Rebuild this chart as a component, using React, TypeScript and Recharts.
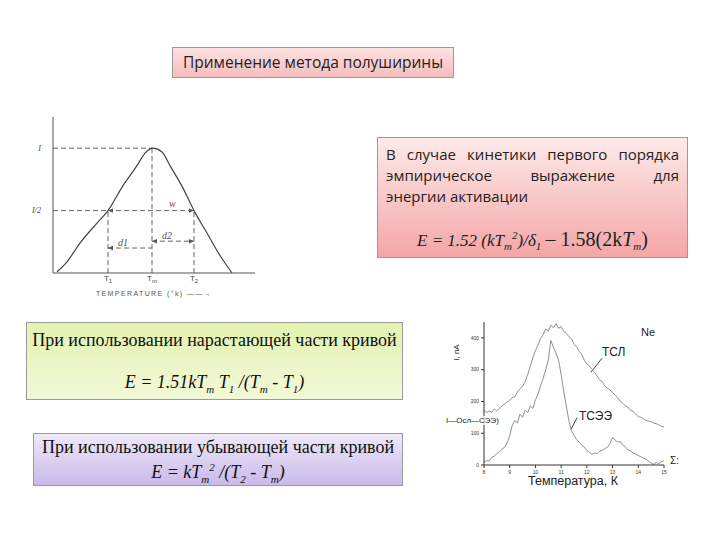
import { LineChart, Line, XAxis, YAxis, ReferenceLine } from "recharts";

// left sketch: half-width method (arbitrary temperature units, I normalised to 1)
const glowT = [4, 14, 27, 44, 55, 70, 84, 92, 100, 109, 117, 130, 141, 154, 167, 179];
const glowI = [0.01, 0.09, 0.24, 0.4, 0.5, 0.7, 0.86, 0.96, 1.0, 0.97, 0.86, 0.68, 0.5, 0.32, 0.14, 0.0];
const T1 = 55;
const TM = 99;
const T2 = 141;
const markTicks = [T1, TM, T2];
const markNames = ["1", "m", "2"];

// right plot: Ne, TSL and TSEE curves
const tempK = [
  8.0, 8.1, 8.2, 8.3, 8.4, 8.5, 8.6, 8.7, 8.8, 8.9, 9.0, 9.1, 9.2, 9.3, 9.4, 9.5, 9.6, 9.7, 9.8, 9.9,
  10.0, 10.1, 10.2, 10.3, 10.4, 10.5, 10.6, 10.7, 10.8, 10.9, 11.0, 11.1, 11.2, 11.3, 11.4, 11.5, 11.6,
  11.7, 11.8, 11.9, 12.0, 12.1, 12.2, 12.3, 12.4, 12.5, 12.6, 12.7, 12.8, 12.9, 13.0, 13.1, 13.2, 13.3,
  13.4, 13.5, 13.6, 13.7, 13.8, 13.9, 14.0, 14.1, 14.2, 14.3, 14.4, 14.5, 14.6, 14.7, 14.8, 14.9, 15.0,
];
const tsl = [
  172, 165, 170, 166, 176, 170, 178, 186, 192, 198, 204, 212, 215, 230, 240, 248, 262, 285, 310, 338,
  360, 378, 398, 410, 428, 422, 440, 432, 445, 430, 436, 420, 414, 404, 398, 380, 372,
  358, 348, 330, 318, 312, 300, 292, 280, 268, 262, 248, 242, 236, 228, 220, 212, 200,
  194, 186, 182, 172, 168, 160, 152, 150, 146, 140, 138, 136, 132, 130, 126, 122, 120,
];
const tsee = [
  8, 14, 12, 24, 28, 36, 42, 50, 56, 70, 92, 125, 140, 132, 160, 150, 172, 165, 186, 178,
  205, 222, 250, 272, 300, 330, 392, 370, 352, 330, 285, 232, 185, 140, 108, 94, 80,
  72, 62, 56, 46, 40, 34, 38, 36, 44, 46, 52, 56, 68, 86, 78, 72, 74,
  62, 56, 48, 44, 38, 34, 30, 26, 22, 18, 12, 6, 2, 8, 4, 10, 14,
];
const xTicks = [8, 9, 10, 11, 12, 13, 14, 15];
const yTicks = [0, 100, 200, 300, 400];

const glowData = glowT.map((t, i) => ({ t, i: glowI[i] }));
const neData = tempK.map((t, i) => ({ t, tsl: tsl[i], tsee: tsee[i] }));

const serif = "'Liberation Serif', 'Times New Roman', serif";
const sans = "'Liberation Sans', Arial, sans-serif";
const calibri = "'Open Sans', 'Noto Sans', sans-serif";

const MarkTick = ({ x, y, payload }: any) => {
  const idx = markTicks.indexOf(payload.value);
  return (
    <text x={x} y={y} textAnchor="middle" fontSize={8} fill="#444" fontFamily={sans}>
      T
      <tspan fontSize={6} dy={1.5}>
        {markNames[idx]}
      </tspan>
    </text>
  );
};

const GlowSketch = () => (
  <LineChart width={270} height={210} data={glowData} margin={{ top: 21, right: 15, left: 0, bottom: 0 }}>
    <defs>
      <marker id="arr" markerWidth="6" markerHeight="6" refX="5" refY="3" orient="auto-start-reverse">
        <path d="M0,0.8 L5,3 L0,5.2 z" fill="#555" />
      </marker>
    </defs>
    <XAxis
      type="number"
      dataKey="t"
      domain={[0, 202]}
      ticks={markTicks}
      tick={<MarkTick />}
      tickLine={false}
      stroke="#555"
      height={33}
      label={{
        value: "TEMPERATURE (°k) ——→",
        position: "insideBottom",
        offset: 10,
        fontSize: 7,
        fill: "#555",
        fontFamily: sans,
        letterSpacing: 1.4,
      }}
    />
    <YAxis
      type="number"
      domain={[0, 1.25]}
      ticks={[0.5, 1]}
      tickFormatter={(v) => (v === 1 ? "I" : "I/2")}
      tickLine={false}
      stroke="#555"
      width={53}
      tickMargin={6}
      tick={{ fontSize: 8, fill: "#444", fontFamily: serif, fontStyle: "italic" }}
    />
    <ReferenceLine segment={[{ x: 0, y: 1 }, { x: TM, y: 1 }]} stroke="#666" strokeDasharray="5 3" />
    <ReferenceLine segment={[{ x: 0, y: 0.5 }, { x: T1, y: 0.5 }]} stroke="#666" strokeDasharray="5 3" />
    <ReferenceLine segment={[{ x: TM, y: 0 }, { x: TM, y: 1 }]} stroke="#666" strokeDasharray="5 3" />
    <ReferenceLine segment={[{ x: T1, y: 0 }, { x: T1, y: 0.5 }]} stroke="#666" strokeDasharray="5 3" />
    <ReferenceLine segment={[{ x: T2, y: 0 }, { x: T2, y: 0.5 }]} stroke="#666" strokeDasharray="5 3" />
    <ReferenceLine
      segment={[{ x: T1, y: 0.5 }, { x: T2, y: 0.5 }]}
      stroke="#666"
      strokeDasharray="5 3"
      markerStart="url(#arr)"
      markerEnd="url(#arr)"
    />
    <ReferenceLine
      segment={[{ x: T1, y: 0.2 }, { x: TM, y: 0.2 }]}
      stroke="#666"
      strokeDasharray="5 3"
      markerStart="url(#arr)"
    />
    <ReferenceLine
      segment={[{ x: TM, y: 0.255 }, { x: T2, y: 0.255 }]}
      stroke="#666"
      strokeDasharray="5 3"
      markerStart="url(#arr)"
      markerEnd="url(#arr)"
    />
    <Line type="monotone" dataKey="i" stroke="#444" strokeWidth={1.2} dot={false} isAnimationActive={false} />
  </LineChart>
);

const NePlot = () => (
  <LineChart width={250} height={200} data={neData} margin={{ top: 12, right: 26, left: 0, bottom: 0 }}>
    <XAxis
      type="number"
      dataKey="t"
      domain={[8, 15]}
      ticks={xTicks}
      tickSize={3}
      stroke="#333"
      height={45}
      tick={{ fontSize: 5, fill: "#333", fontFamily: sans }}
    />
    <XAxis xAxisId="top" orientation="top" type="number" domain={[8, 15]} ticks={xTicks} tick={false} stroke="#333" height={0} />
    <YAxis
      type="number"
      domain={[0, 450]}
      ticks={yTicks}
      tickSize={3}
      stroke="#333"
      width={44}
      tick={{ fontSize: 5, fill: "#333", fontFamily: sans }}
    />
    <YAxis yAxisId="right" orientation="right" type="number" domain={[0, 450]} ticks={yTicks} tick={false} stroke="#333" width={0} />
    <ReferenceLine segment={[{ x: 12.59, y: 336 }, { x: 12.16, y: 292 }]} stroke="#444" />
    <ReferenceLine segment={[{ x: 11.62, y: 149 }, { x: 11.38, y: 112 }]} stroke="#444" />
    <Line type="linear" dataKey="tsl" stroke="#909090" strokeWidth={1} dot={false} isAnimationActive={false} />
    <Line type="linear" dataKey="tsee" stroke="#909090" strokeWidth={1} dot={false} isAnimationActive={false} />
  </LineChart>
);

const box = (left: number, top: number, width: number, height: number, bg: string) => ({
  position: "absolute" as const,
  left,
  top,
  width,
  height,
  boxSizing: "border-box" as const,
  border: "1px solid #9a9a9a",
  background: bg,
});

const abs = (left: number, top: number, extra: any = {}) => ({ position: "absolute" as const, left, top, ...extra });
const sub = { fontSize: 11 };
const sketchLabel = { fontFamily: serif, fontStyle: "italic", fontSize: 10, color: "#555", lineHeight: "10px" };

export default function App() {
  return (
    <div style={{ position: "absolute", left: 0, top: 0, width: 720, height: 540, background: "#fff", overflow: "hidden" }}>
      <div style={abs(0, 96)}>
        <GlowSketch />
      </div>
      <div style={abs(169, 199, sketchLabel)}>w</div>
      <div style={abs(118, 238, sketchLabel)}>d1</div>
      <div style={abs(162, 231, sketchLabel)}>d2</div>

      <div style={abs(440, 310)}>
        <NePlot />
      </div>

      {/* right plot annotations */}
      <div style={abs(641, 326, { fontFamily: sans, fontSize: 11, color: "#222" })}>Ne</div>
      <div style={abs(602, 345, { fontFamily: sans, fontSize: 12, color: "#222" })}>ТСЛ</div>
      <div style={abs(579, 409, { fontFamily: sans, fontSize: 12, color: "#222" })}>ТСЭЭ</div>
      <div style={abs(528, 474, { fontFamily: sans, fontSize: 12.5, color: "#222" })}>Температура, К</div>
      <div
        style={abs(448, 348, { fontFamily: sans, fontSize: 8, color: "#222", transform: "rotate(-90deg)", transformOrigin: "center" })}
      >
        I, пA
      </div>
      <div style={abs(446, 416, { fontFamily: sans, fontSize: 8, color: "#222", background: "rgba(255,255,255,0.8)" })}>
        I—Осл—СЭЭ)
      </div>
      <div style={abs(670, 455, { fontFamily: sans, fontSize: 10, color: "#222" })}>Σ:</div>

      {/* title */}
      <div
        style={{
          ...box(172, 47, 282, 31, "linear-gradient(to bottom, #fde2e2, #f6bcbc)"),
          fontFamily: calibri,
          fontSize: 15.5,
          color: "#222",
          textAlign: "center",
          lineHeight: "29px",
        }}
      >
        Применение метода полуширины
      </div>

      {/* first order kinetics */}
      <div
        style={{
          ...box(377, 137, 311, 121, "linear-gradient(to bottom, #fdeaea, #f4a6a6)"),
          fontFamily: calibri,
          fontSize: 15,
          color: "#222",
          padding: "6px 8px 0 8px",
        }}
      >
        <div style={{ textAlign: "justify", textAlignLast: "justify", lineHeight: "21px" }}>
          В случае кинетики первого порядка эмпирическое выражение для
        </div>
        <div style={{ lineHeight: "20px" }}>энергии активации</div>
        <div style={{ fontFamily: serif, fontStyle: "italic", fontSize: 17, textAlign: "center", marginTop: 22 }}>
          E = 1.52 (kT<sub style={sub}>m</sub>
          <sup style={sub}>2</sup>)/δ<sub style={sub}>1</sub>{" "}
          <span style={{ fontStyle: "normal", fontSize: 20 }}>– 1.58(2k</span>
          <span style={{ fontSize: 20 }}>T</span>
          <sub style={sub}>m</sub>
          <span style={{ fontStyle: "normal", fontSize: 20 }}>)</span>
        </div>
      </div>

      {/* rising part */}
      <div
        style={{
          ...box(26, 322, 377, 78, "linear-gradient(to bottom, #e3f2b0, #f2f9d8)"),
          fontFamily: serif,
          fontSize: 18,
          color: "#111",
          textAlign: "center",
        }}
      >
        <div style={{ marginTop: 7 }}>При использовании нарастающей части кривой</div>
        <div style={{ fontStyle: "italic", marginTop: 21 }}>
          E = 1.51kT<sub style={sub}>m</sub> T<sub style={sub}>1</sub> /(T<sub style={sub}>m</sub> - T
          <sub style={sub}>1</sub>)
        </div>
      </div>

      {/* falling part */}
      <div
        style={{
          ...box(33, 433, 370, 53, "linear-gradient(to bottom, #efe9f8, #c9b9ea)"),
          fontFamily: serif,
          fontSize: 18,
          color: "#111",
          textAlign: "center",
          lineHeight: "20px",
        }}
      >
        <div style={{ marginTop: 3 }}>При использовании убывающей части кривой</div>
        <div style={{ fontStyle: "italic" }}>
          E = kT<sub style={sub}>m</sub>
          <sup style={sub}>2</sup> /(T<sub style={sub}>2</sub> - T<sub style={sub}>m</sub>)
        </div>
      </div>
    </div>
  );
}
